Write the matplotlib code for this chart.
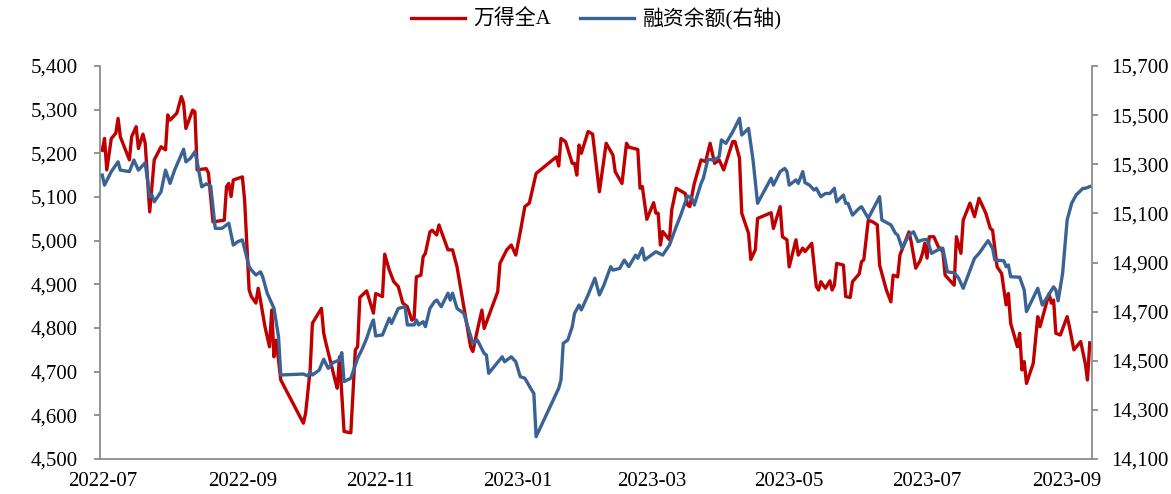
import matplotlib
matplotlib.use("Agg")
import matplotlib.pyplot as plt
import matplotlib.dates as mdates
from matplotlib.ticker import FuncFormatter, FixedLocator
import pandas as pd

plt.rcParams['font.family'] = ['Liberation Serif', 'Noto Sans CJK SC', 'DejaVu Sans']

series_names = ["万得全A", "融资余额(右轴)"]

red_dates = [
    "2022-07-01", "2022-07-02", "2022-07-03", "2022-07-05", "2022-07-07", "2022-07-08", "2022-07-09",
    "2022-07-13", "2022-07-14", "2022-07-16", "2022-07-17", "2022-07-19", "2022-07-20", "2022-07-22",
    "2022-07-24", "2022-07-27", "2022-07-29", "2022-07-30", "2022-07-31", "2022-08-03", "2022-08-05",
    "2022-08-06", "2022-08-07", "2022-08-10", "2022-08-11", "2022-08-12", "2022-08-16", "2022-08-17",
    "2022-08-19", "2022-08-24", "2022-08-25", "2022-08-26", "2022-08-27", "2022-08-28", "2022-09-01",
    "2022-09-02", "2022-09-04", "2022-09-05", "2022-09-07", "2022-09-08", "2022-09-09", "2022-09-11",
    "2022-09-13", "2022-09-14", "2022-09-15", "2022-09-16", "2022-09-18", "2022-09-28", "2022-09-29",
    "2022-10-01", "2022-10-02", "2022-10-06", "2022-10-07", "2022-10-08", "2022-10-12", "2022-10-13",
    "2022-10-14", "2022-10-16", "2022-10-19", "2022-10-21", "2022-10-22", "2022-10-23", "2022-10-26",
    "2022-10-29", "2022-10-30", "2022-11-02", "2022-11-03", "2022-11-05", "2022-11-07", "2022-11-09",
    "2022-11-11", "2022-11-13", "2022-11-15", "2022-11-16", "2022-11-17", "2022-11-19", "2022-11-20",
    "2022-11-21", "2022-11-23", "2022-11-24", "2022-11-26", "2022-11-27", "2022-12-01", "2022-12-03",
    "2022-12-05", "2022-12-08", "2022-12-11", "2022-12-12", "2022-12-14", "2022-12-16", "2022-12-17",
    "2022-12-23", "2022-12-24", "2022-12-27", "2022-12-29", "2022-12-31", "2023-01-02", "2023-01-04",
    "2023-01-06", "2023-01-09", "2023-01-18", "2023-01-19", "2023-01-20", "2023-01-22", "2023-01-25",
    "2023-01-26", "2023-01-27", "2023-01-28", "2023-01-29", "2023-02-01", "2023-02-03", "2023-02-06",
    "2023-02-09", "2023-02-12", "2023-02-13", "2023-02-16", "2023-02-18", "2023-02-19", "2023-02-23",
    "2023-02-24", "2023-02-25", "2023-02-27", "2023-03-02", "2023-03-03", "2023-03-04", "2023-03-05",
    "2023-03-06", "2023-03-09", "2023-03-10", "2023-03-12", "2023-03-16", "2023-03-17", "2023-03-18",
    "2023-03-20", "2023-03-23", "2023-03-25", "2023-03-27", "2023-03-29", "2023-03-31", "2023-04-02",
    "2023-04-06", "2023-04-07", "2023-04-09", "2023-04-10", "2023-04-13", "2023-04-14", "2023-04-16",
    "2023-04-17", "2023-04-23", "2023-04-24", "2023-04-27", "2023-04-28", "2023-04-30", "2023-05-01",
    "2023-05-04", "2023-05-05", "2023-05-07", "2023-05-08", "2023-05-11", "2023-05-13", "2023-05-14",
    "2023-05-15", "2023-05-17", "2023-05-19", "2023-05-20", "2023-05-21", "2023-05-22", "2023-05-25",
    "2023-05-26", "2023-05-28", "2023-05-29", "2023-06-01", "2023-06-02", "2023-06-03", "2023-06-05",
    "2023-06-07", "2023-06-09", "2023-06-10", "2023-06-13", "2023-06-15", "2023-06-16", "2023-06-18",
    "2023-06-19", "2023-06-23", "2023-06-24", "2023-06-26", "2023-06-28", "2023-06-29", "2023-06-30",
    "2023-07-01", "2023-07-02", "2023-07-04", "2023-07-06", "2023-07-08", "2023-07-09", "2023-07-12",
    "2023-07-13", "2023-07-14", "2023-07-15", "2023-07-16", "2023-07-17", "2023-07-20", "2023-07-22",
    "2023-07-24", "2023-07-27", "2023-07-29", "2023-07-30", "2023-08-01", "2023-08-03", "2023-08-05",
    "2023-08-06", "2023-08-07", "2023-08-10", "2023-08-11", "2023-08-12", "2023-08-13", "2023-08-14",
    "2023-08-17", "2023-08-19", "2023-08-20", "2023-08-24", "2023-08-25", "2023-08-26", "2023-08-27",
    "2023-08-29", "2023-09-01", "2023-09-02", "2023-09-04", "2023-09-07", "2023-09-09", "2023-09-10",
    "2023-09-11",
]
red_values = [
    5207, 5234, 5162, 5234, 5246, 5280, 5238,
    5185, 5238, 5261, 5211, 5244, 5223, 5066,
    5185, 5215, 5208, 5288, 5276, 5292, 5330,
    5315, 5257, 5299, 5295, 5162, 5165, 5155,
    5043, 5047, 5124, 5131, 5101, 5139, 5146,
    5093, 4887, 4872, 4857, 4891, 4864, 4803,
    4757, 4841, 4734, 4772, 4681, 4582, 4605,
    4704, 4811, 4845, 4788, 4765, 4681, 4662,
    4734, 4563, 4560, 4750, 4757, 4870, 4885,
    4834, 4879, 4872, 4969, 4933, 4906, 4895,
    4857, 4849, 4818, 4822, 4917, 4921, 4963,
    4971, 5020, 5024, 5013, 5036, 4979, 4979,
    4940, 4849, 4757, 4746, 4795, 4841, 4799,
    4883, 4948, 4979, 4990, 4967, 5020, 5078,
    5086, 5154, 5192, 5171, 5234, 5227, 5177,
    5177, 5150, 5219, 5200, 5250, 5244, 5112,
    5223, 5196, 5158, 5131, 5223, 5214, 5209,
    5120, 5124, 5049, 5087, 5063, 5063, 4990,
    5021, 5002, 5070, 5120, 5108, 5082, 5078,
    5131, 5185, 5181, 5223, 5177, 5185, 5162,
    5227, 5227, 5189, 5063, 5017, 4957, 4979,
    5051, 5064, 5028, 5078, 5009, 5002, 4940,
    5002, 4967, 4983, 4975, 4994, 4895, 4887,
    4906, 4891, 4908, 4887, 4898, 4948, 4944,
    4872, 4870, 4906, 4924, 4952, 4956, 5047,
    5043, 5036, 4944, 4887, 4860, 4921, 4917,
    4967, 5020, 4997, 4937, 4955, 4971, 4994,
    4960, 5009, 5009, 4986, 4975, 4921, 4904,
    4898, 5009, 4990, 4971, 5047, 5086, 5055,
    5097, 5063, 5028, 5024, 4940, 4925, 4853,
    4879, 4811, 4757, 4788, 4704, 4723, 4673,
    4719, 4826, 4803, 4879, 4857, 4864, 4788,
    4784, 4826, 4803, 4750, 4769, 4719, 4681,
    4766,
]

blue_dates = [
    "2022-07-01", "2022-07-02", "2022-07-05", "2022-07-08", "2022-07-09", "2022-07-13", "2022-07-15",
    "2022-07-17", "2022-07-20", "2022-07-22", "2022-07-23", "2022-07-24", "2022-07-27", "2022-07-29",
    "2022-07-31", "2022-08-02", "2022-08-06", "2022-08-07", "2022-08-09", "2022-08-11", "2022-08-12",
    "2022-08-14", "2022-08-16", "2022-08-18", "2022-08-20", "2022-08-23", "2022-08-26", "2022-08-28",
    "2022-08-30", "2022-09-01", "2022-09-04", "2022-09-05", "2022-09-07", "2022-09-09", "2022-09-10",
    "2022-09-12", "2022-09-15", "2022-09-17", "2022-09-18", "2022-09-28", "2022-09-30", "2022-10-01",
    "2022-10-02", "2022-10-05", "2022-10-07", "2022-10-09", "2022-10-11", "2022-10-14", "2022-10-15",
    "2022-10-16", "2022-10-19", "2022-10-22", "2022-10-24", "2022-10-26", "2022-10-28", "2022-10-29",
    "2022-10-30", "2022-11-02", "2022-11-05", "2022-11-06", "2022-11-09", "2022-11-12", "2022-11-13",
    "2022-11-16", "2022-11-17", "2022-11-18", "2022-11-20", "2022-11-21", "2022-11-23", "2022-11-25",
    "2022-11-26", "2022-11-28", "2022-12-01", "2022-12-02", "2022-12-03", "2022-12-05", "2022-12-08",
    "2022-12-12", "2022-12-14", "2022-12-17", "2022-12-18", "2022-12-19", "2022-12-25", "2022-12-26",
    "2022-12-29", "2022-12-31", "2023-01-02", "2023-01-04", "2023-01-07", "2023-01-08", "2023-01-09",
    "2023-01-19", "2023-01-20", "2023-01-21", "2023-01-23", "2023-01-25", "2023-01-26", "2023-01-28",
    "2023-01-29", "2023-02-01", "2023-02-04", "2023-02-06", "2023-02-08", "2023-02-11", "2023-02-12",
    "2023-02-15", "2023-02-17", "2023-02-19", "2023-02-22", "2023-02-23", "2023-02-25", "2023-02-26",
    "2023-03-03", "2023-03-06", "2023-03-09", "2023-03-12", "2023-03-14", "2023-03-17", "2023-03-19",
    "2023-03-20", "2023-03-23", "2023-03-24", "2023-03-26", "2023-03-29", "2023-03-31", "2023-04-01",
    "2023-04-03", "2023-04-06", "2023-04-09", "2023-04-10", "2023-04-13", "2023-04-15", "2023-04-17",
    "2023-04-23", "2023-04-24", "2023-04-27", "2023-04-29", "2023-04-30", "2023-05-01", "2023-05-04",
    "2023-05-05", "2023-05-07", "2023-05-08", "2023-05-10", "2023-05-12", "2023-05-13", "2023-05-15",
    "2023-05-17", "2023-05-19", "2023-05-21", "2023-05-22", "2023-05-25", "2023-05-26", "2023-05-27",
    "2023-05-29", "2023-06-01", "2023-06-02", "2023-06-05", "2023-06-10", "2023-06-11", "2023-06-15",
    "2023-06-17", "2023-06-18", "2023-06-20", "2023-06-23", "2023-06-25", "2023-06-27", "2023-06-29",
    "2023-07-01", "2023-07-03", "2023-07-07", "2023-07-08", "2023-07-10", "2023-07-13", "2023-07-15",
    "2023-07-17", "2023-07-22", "2023-07-24", "2023-07-28", "2023-07-30", "2023-07-31", "2023-08-04",
    "2023-08-05", "2023-08-06", "2023-08-07", "2023-08-11", "2023-08-13", "2023-08-14", "2023-08-19",
    "2023-08-21", "2023-08-26", "2023-08-27", "2023-08-28", "2023-08-30", "2023-09-01", "2023-09-03",
    "2023-09-05", "2023-09-08", "2023-09-09", "2023-09-11",
]
blue_values = [
    15256, 15215, 15270, 15310, 15276, 15270, 15317,
    15276, 15306, 15168, 15175, 15147, 15188, 15276,
    15222, 15276, 15361, 15310, 15324, 15351, 15310,
    15208, 15220, 15211, 15039, 15039, 15060, 14971,
    14985, 14992, 14883, 14869, 14849, 14862, 14842,
    14775, 14713, 14598, 14442, 14446, 14438, 14455,
    14442, 14462, 14506, 14469, 14492, 14503, 14533,
    14415, 14429, 14510, 14547, 14591, 14646, 14666,
    14601, 14605, 14673, 14652, 14713, 14720, 14646,
    14646, 14666, 14646, 14659, 14639, 14713, 14740,
    14747, 14720, 14775, 14747, 14775, 14713, 14693,
    14571, 14584, 14530, 14523, 14449, 14516, 14496,
    14516, 14496, 14435, 14429, 14381, 14367, 14191,
    14388, 14422, 14571, 14584, 14639, 14693, 14727,
    14707, 14768, 14836, 14768, 14808, 14883, 14869,
    14876, 14910, 14883, 14930, 14917, 14958, 14910,
    14944, 14930, 14971, 15046, 15093, 15171, 15161,
    15134, 15222, 15243, 15320, 15317, 15331, 15399,
    15385, 15432, 15487, 15419, 15446, 15317, 15141,
    15243, 15215, 15270, 15283, 15270, 15215, 15236,
    15222, 15270, 15225, 15215, 15195, 15202, 15168,
    15181, 15181, 15202, 15147, 15175, 15141, 15141,
    15093, 15121, 15127, 15080, 15168, 15073, 15053,
    15019, 15012, 14958, 15012, 15025, 14985, 14992,
    14994, 14937, 14958, 14958, 14862, 14858, 14836,
    14795, 14917, 14937, 14989, 14958, 14910, 14907,
    14883, 14890, 14842, 14840, 14788, 14700, 14795,
    14727, 14801, 14788, 14744, 14856, 15073, 15141,
    15175, 15202, 15202, 15209,
]

left_ticks = [4500, 4600, 4700, 4800, 4900, 5000, 5100, 5200, 5300, 5400]
right_ticks = [14100, 14300, 14500, 14700, 14900, 15100, 15300, 15500, 15700]
x_tick_dates = ["2022-07-01", "2022-09-01", "2022-11-01", "2023-01-01",
                "2023-03-01", "2023-05-01", "2023-07-01", "2023-09-01"]
x_range = ["2022-06-30", "2023-09-12"]

RED = "#C00000"
BLUE = "#3A6395"
GRAY = "#8C8C8C"
FS = 15

fig = plt.figure(figsize=(11.71, 4.94), dpi=100)
ax = fig.add_axes([100 / 1171, 35 / 494, 992 / 1171, 393 / 494])
ax2 = ax.twinx()

rd = pd.to_datetime(red_dates)
bd = pd.to_datetime(blue_dates)
l1, = ax.plot(rd, red_values, color=RED, lw=2.4, solid_joinstyle="round", label=series_names[0])
l2, = ax2.plot(bd, blue_values, color=BLUE, lw=2.4, solid_joinstyle="round", label=series_names[1])

ax.set_xlim(pd.to_datetime(x_range[0]), pd.to_datetime(x_range[1]))
ax.set_ylim(left_ticks[0], left_ticks[-1])
ax2.set_ylim(right_ticks[0], right_ticks[-1])

ax.yaxis.set_major_locator(FixedLocator(left_ticks))
ax2.yaxis.set_major_locator(FixedLocator(right_ticks))
fmt = FuncFormatter(lambda v, p: f"{int(round(v)):,}")
ax.yaxis.set_major_formatter(fmt)
ax2.yaxis.set_major_formatter(fmt)

ax.xaxis.set_major_locator(FixedLocator(mdates.date2num(pd.to_datetime(x_tick_dates))))
ax.xaxis.set_major_formatter(mdates.DateFormatter("%Y-%m"))

for a in (ax, ax2):
    a.spines["top"].set_visible(False)
    for s in ("left", "right", "bottom"):
        a.spines[s].set_color(GRAY)
        a.spines[s].set_linewidth(1.3)
ax.spines["right"].set_visible(False)
ax2.spines["left"].set_visible(False)
ax2.spines["bottom"].set_visible(False)

ax.tick_params(axis="y", direction="out", length=4, width=1.3, color=GRAY, pad=12,
               labelsize=FS, labelcolor="black")
ax2.tick_params(axis="y", direction="out", length=4, width=1.3, color=GRAY, pad=10,
                labelsize=FS, labelcolor="black")
ax.tick_params(axis="x", length=0, pad=9, labelsize=FS, labelcolor="black")

fig.legend(handles=[l1, l2], labels=series_names, loc="center", ncol=2,
           bbox_to_anchor=(596 / 1171, 1 - 19 / 494), frameon=False,
           fontsize=FS, handlelength=2.6, handletextpad=0.4, columnspacing=1.4)

fig.savefig("out.png", dpi=100)
